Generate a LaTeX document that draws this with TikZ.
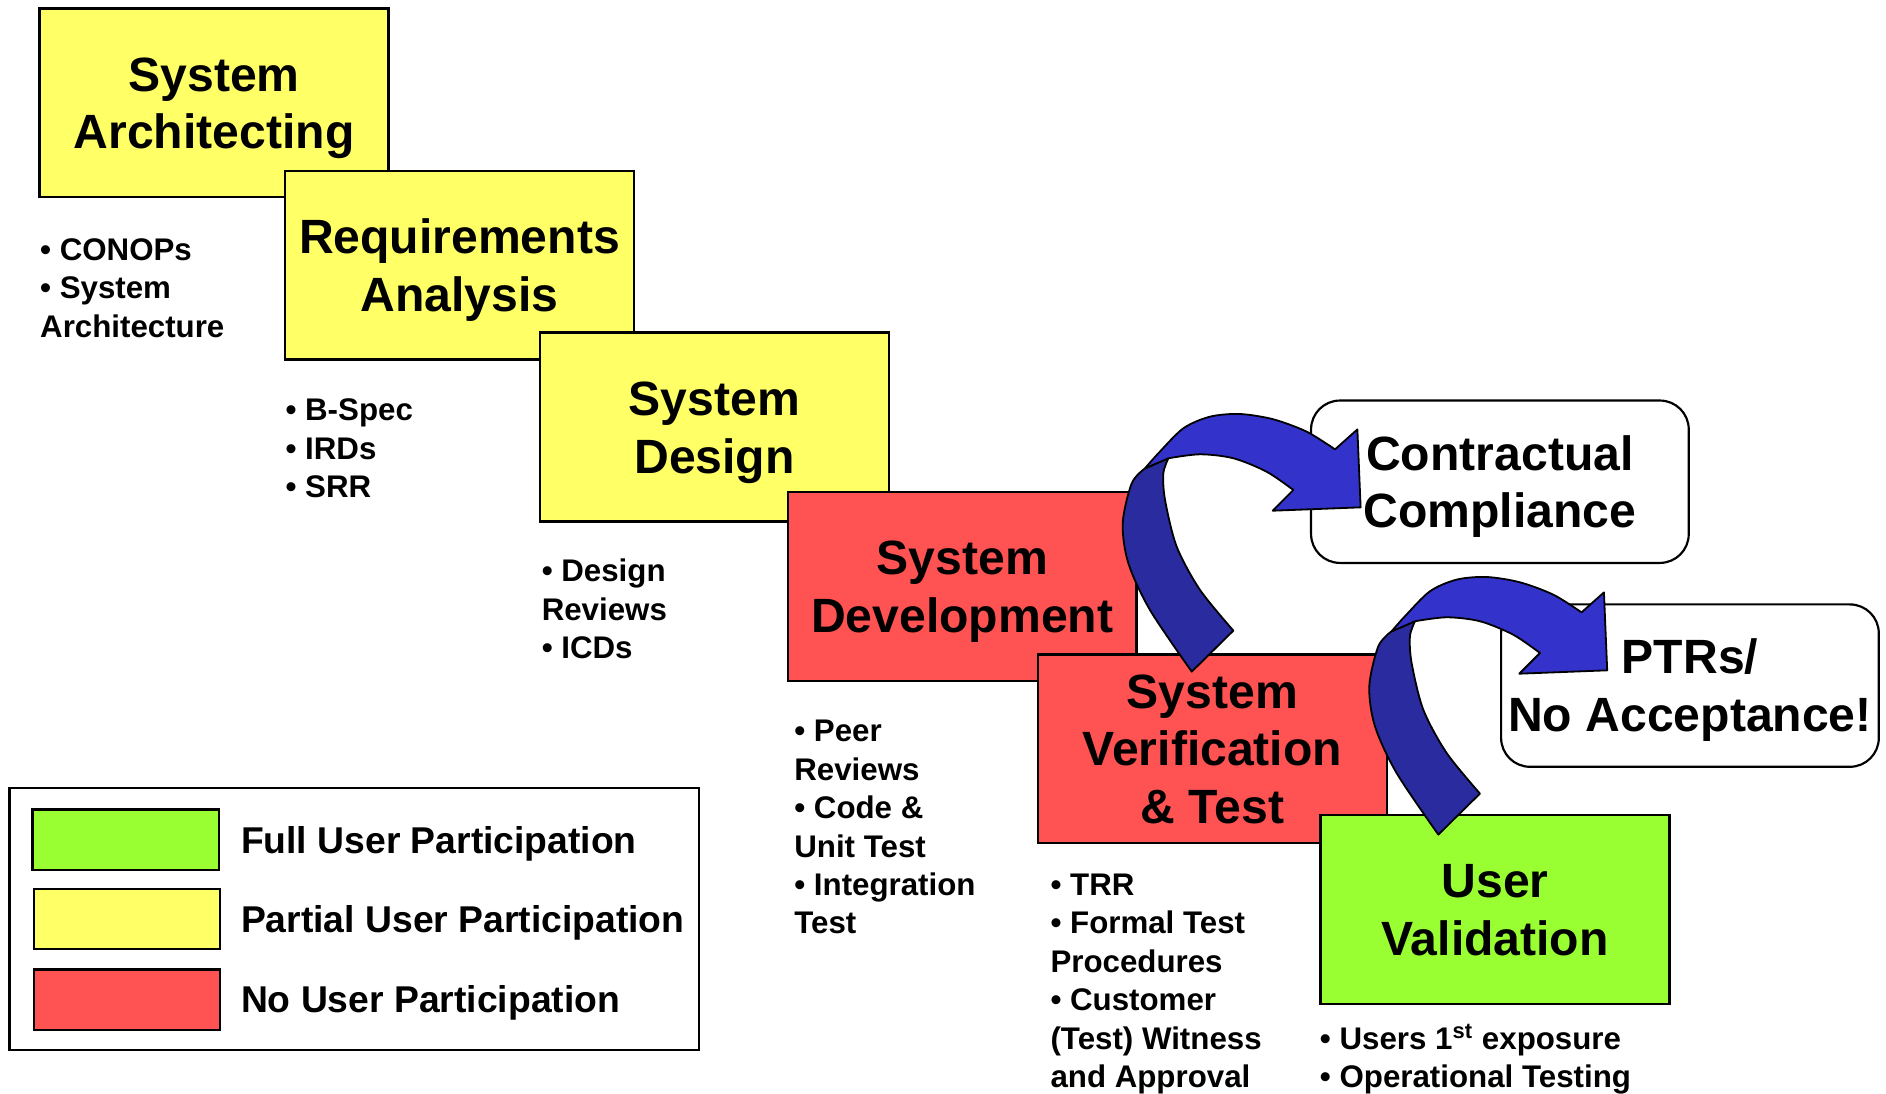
\documentclass[tikz,border=0pt]{standalone}
\usepackage{fontspec}
\setmainfont{Liberation Sans}
\definecolor{stageY}{HTML}{FFFF66}
\definecolor{stageR}{HTML}{FF5252}
\definecolor{stageG}{HTML}{99FF33}
\definecolor{ribbonL}{HTML}{3333CC}
\definecolor{ribbonD}{HTML}{2B2BA0}
\newcommand\lblstrut{\rule[-4.3pt]{0pt}{22.9pt}}
\tikzset{
  stage/.style={draw=black, line width=1pt, minimum width=145pt, minimum height=78.5pt,
    inner sep=0pt, outer sep=0pt, align=center, font=\bfseries\fontsize{20}{24}\selectfont},
  outcome/.style={draw=black, line width=0.9pt, rounded corners=12pt, fill=white,
    minimum width=157pt, minimum height=67.5pt, inner sep=0pt, align=center,
    font=\bfseries\fontsize{20}{24}\selectfont},
  notes/.style={anchor=base west, inner sep=0pt, font=\bfseries\fontsize{13}{16}\selectfont},
  legtext/.style={anchor=base west, inner sep=0pt, font=\bfseries\fontsize{15.5}{18}\selectfont},
  swatch/.style={draw=black, line width=0.9pt, minimum width=77.5pt, minimum height=25pt, inner sep=0pt},
  ribbonedge/.style={draw=black, line width=0.75pt, line join=round},
  pics/ribbon/.style={code={
    \path[ribbonedge, fill=ribbonD] (971.4,381.0) -- (951.9,389.4)
      -- plot[smooth] coordinates {(951.9,389.4) (940.9,401.8) (933.4,435.1) (938.1,468.3) (956.1,507.2) (990.8,558.4)}
      -- (1025.4,524.3)
      -- plot[smooth] coordinates {(1025.4,524.3) (997.7,490.5) (978.3,454.5) (968.6,415.7) (967.2,393.5) (971.4,381.0)}
      -- cycle;
    \path[ribbonedge, fill=ribbonL] (951.9,389.4)
      -- plot[smooth] coordinates {(951.9,389.4) (963.0,376.9) (983.8,356.1) (1006.0,346.4) (1030.9,344.2) (1058.6,348.6) (1086.4,358.9) (1109.9,373.6)}
      -- (1128.5,357.0) -- (1131.2,421.8) -- (1058.1,424.6) -- (1075.3,407.4)
      -- plot[smooth] coordinates {(1075.3,407.4) (1053.1,392.2) (1025.4,381.0) (997.7,377.7) (971.4,381.0)}
      -- cycle;
  }}
}
\begin{document}
\begin{tikzpicture}[x=0.5pt, y=-0.5pt]
\useasboundingbox[fill=white] (0,0) rectangle (1568,909.5);

% stages
\node[stage, fill=stageY] (arch) at (178,85.5) {\lblstrut System\\\lblstrut Architecting};
\node[stage, fill=stageY] (req)  at (382,220.5) {\lblstrut Requirements\\\lblstrut Analysis};
\node[stage, fill=stageY] (des)  at (594,355) {\lblstrut System\\\lblstrut Design};
\node[stage, fill=stageR] (dev)  at (800,487.5) {\lblstrut System\\\lblstrut Development};
\node[stage, fill=stageR] (ver)  at (1008,622.5) {\lblstrut System\\\lblstrut Verification\\\lblstrut\& Test};
\node[stage, fill=stageG] (val)  at (1243,756) {\lblstrut User\\\lblstrut Validation};

% outcomes
\node[outcome] (comp) at (1247,400.5) {\lblstrut Contractual\\\lblstrut Compliance};
\node[outcome] (ptr)  at (1405,570) {\lblstrut PTRs/\\\lblstrut No Acceptance!};

% ribbons
\pic (r1) at (0,0) {ribbon};
\pic (r2) at (205,135.5) {ribbon};

% notes
\node[notes] (n1) at (33,216.5) {\begin{tabular}[t]{@{}l@{}}• CONOPs\\• System\\Architecture\end{tabular}};
\node[notes] (n2) at (237,350) {\begin{tabular}[t]{@{}l@{}}• B-Spec\\• IRDs\\• SRR\end{tabular}};
\node[notes] (n3) at (450,483.5) {\begin{tabular}[t]{@{}l@{}}• Design\\Reviews\\• ICDs\end{tabular}};
\node[notes] (n4) at (660,616.5) {\begin{tabular}[t]{@{}l@{}}• Peer\\Reviews\\• Code \&\\Unit Test\\• Integration\\Test\end{tabular}};
\node[notes] (n5) at (873,744.5) {\begin{tabular}[t]{@{}l@{}}• TRR\\• Formal Test\\Procedures\\• Customer\\(Test) Witness\\and Approval\end{tabular}};
\node[notes] (n6) at (1097,872.5) {\begin{tabular}[t]{@{}l@{}}• Users 1\textsuperscript{st} exposure\\• Operational Testing\end{tabular}};

% legend
\node[draw=black, line width=1pt, minimum width=286.5pt, minimum height=109pt, inner sep=0pt] (legend) at (294.5,764) {};
\node[swatch, fill=stageG] (sg) at (104.5,698) {};
\node[swatch, fill=stageY] (sy) at (105.5,764) {};
\node[swatch, fill=stageR] (sr) at (105.5,831) {};
\node[legtext] (lg) at (200,709.5) {Full User Participation};
\node[legtext] (ly) at (200,775.5) {Partial User Participation};
\node[legtext] (lr) at (200,841.5) {No User Participation};
\end{tikzpicture}
\end{document}
